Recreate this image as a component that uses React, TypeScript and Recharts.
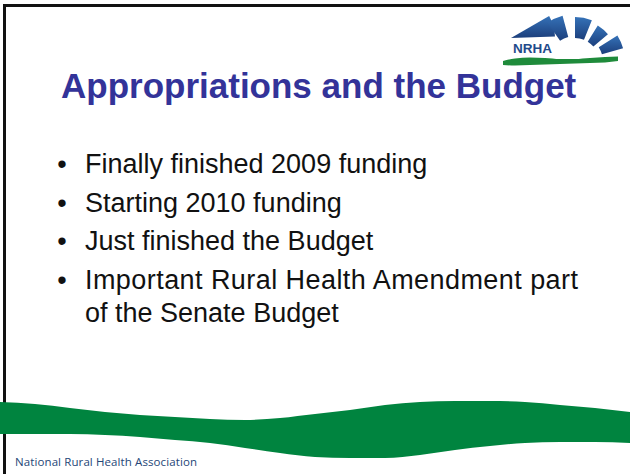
import React from 'react';
import {
  ComposedChart,
  Area,
  XAxis,
  YAxis,
  PieChart,
  Pie,
  Cell,
} from 'recharts';

const W = 630;
const H = 474;

// slide text
const title = 'Appropriations and the Budget';
const bullets = [
  ['Finally finished 2009 funding'],
  ['Starting 2010 funding'],
  ['Just finished the Budget'],
  ['Important Rural Health Amendment part', 'of the Senate Budget'],
];
const footer = 'National Rural Health Association';
const logoText = 'NRHA';

// green band along the bottom (x, upper edge, lower edge)
const waveX = [0, 35, 70, 105, 140, 175, 210, 245, 280, 315, 350, 385, 420, 455, 490, 525, 560, 595, 630];
const waveTop = [402, 404, 408, 412, 415, 417, 419, 420, 418, 414, 410, 405, 402, 401, 401, 402, 405, 408, 412];
const waveBottom = [434, 434, 434, 435, 437, 440, 443, 448, 453, 457, 458, 458, 455, 450, 446, 443, 442, 442, 443];

// green swoosh under the logo
const swooshX = [503, 515, 530, 545, 560, 575, 590, 605, 618];
const swooshTop = [61, 58.5, 57.5, 58, 59, 59, 58, 57, 56.5];
const swooshBottom = [65, 65.5, 65, 64.5, 64, 63.5, 63, 62.5, 61];

// logo rays: apex, angles, radii
const rays = [
  { cx: 511, cy: 38, start: 2, end: 30, inner: 0, outer: 44 },
  { cx: 575, cy: 62, start: 105, end: 125, inner: 26, outer: 48 },
  { cx: 575, cy: 62, start: 68, end: 90, inner: 24, outer: 45 },
  { cx: 575, cy: 62, start: 40, end: 58, inner: 24, outer: 43 },
  { cx: 575, cy: 62, start: 16, end: 32, inner: 28, outer: 50 },
];

const waveData = waveX.map((x, i) => ({ x, band: [waveTop[i], waveBottom[i]] }));
const swooshData = swooshX.map((x, i) => ({ x, band: [swooshTop[i], swooshBottom[i]] }));

const BULLET_STEP = 38.5;
const WRAP_STEP = 33;

export default function App() {
  let y = 173;
  const lines: React.ReactNode[] = [];
  bullets.forEach((para, i) => {
    lines.push(
      <text key={`b-${i}`} x={62} y={y} textAnchor="middle" fontFamily="Liberation Sans" fontSize={27} fill="#111">
        •
      </text>
    );
    para.forEach((ln, j) => {
      const wide = ln.startsWith('Important');
      lines.push(
        <text
          key={`t-${i}-${j}`}
          x={85}
          y={y + j * WRAP_STEP}
          fontFamily="Liberation Sans"
          fontSize={27}
          fill="#111"
          textLength={wide ? 493 : undefined}
          lengthAdjust={wide ? 'spacing' : undefined}
        >
          {ln}
        </text>
      );
    });
    y += (para.length - 1) * WRAP_STEP + BULLET_STEP;
  });

  return (
    <div style={{ position: 'absolute', left: 0, top: 0, width: W, height: H, background: '#fff', overflow: 'hidden' }}>
      {/* slide frame */}
      <div
        style={{
          position: 'absolute',
          left: 3,
          top: 4,
          width: W,
          height: H,
          borderTop: '3px solid #111',
          borderLeft: '3px solid #111',
        }}
      />
      <div style={{ position: 'absolute', left: 0, top: 0 }}>
        <PieChart width={W} height={H} margin={{ top: 0, right: 0, bottom: 0, left: 0 }}>
          <defs>
            <linearGradient id="rayFill" x1="0" y1="1" x2="0" y2="0">
              <stop offset="0%" stopColor="#1c3f7c" />
              <stop offset="100%" stopColor="#3572b8" />
            </linearGradient>
          </defs>
          {rays.map((r, i) => (
            <Pie
              key={`ray-${i}`}
              data={[{ name: `ray${i}`, value: 1 }]}
              dataKey="value"
              cx={r.cx}
              cy={r.cy}
              startAngle={r.start}
              endAngle={r.end}
              innerRadius={r.inner}
              outerRadius={r.outer}
              stroke="none"
              isAnimationActive={false}
            >
              <Cell fill="url(#rayFill)" />
            </Pie>
          ))}
        </PieChart>
      </div>
      <div style={{ position: 'absolute', left: 0, top: 0 }}>
        <ComposedChart width={W} height={H} margin={{ top: 0, right: 0, bottom: 0, left: 0 }}>
          <XAxis type="number" dataKey="x" domain={[0, W]} hide allowDataOverflow />
          <YAxis type="number" domain={[0, H]} reversed hide allowDataOverflow />
          <Area
            data={waveData}
            dataKey="band"
            type="monotone"
            fill="#00843f"
            fillOpacity={1}
            stroke="none"
            isAnimationActive={false}
          />
          <Area
            data={swooshData}
            dataKey="band"
            type="monotone"
            fill="#1f8b3b"
            fillOpacity={1}
            stroke="none"
            isAnimationActive={false}
          />
        </ComposedChart>
      </div>
      <svg width={W} height={H} style={{ position: 'absolute', left: 0, top: 0 }}>
        <text x={513} y={53} fontFamily="Liberation Sans" fontWeight="bold" fontSize={13.5} fill="#1f4a8a">
          {logoText}
        </text>
        <text x={61} y={98} fontFamily="Liberation Sans" fontWeight="bold" fontSize={35} fill="#333399">
          {title}
        </text>
        {lines}
        <text x={15} y={466} fontFamily="Open Sans" fontSize={11.5} fill="#254677" textLength={182} lengthAdjust="spacing">
          {footer}
        </text>
      </svg>
    </div>
  );
}
